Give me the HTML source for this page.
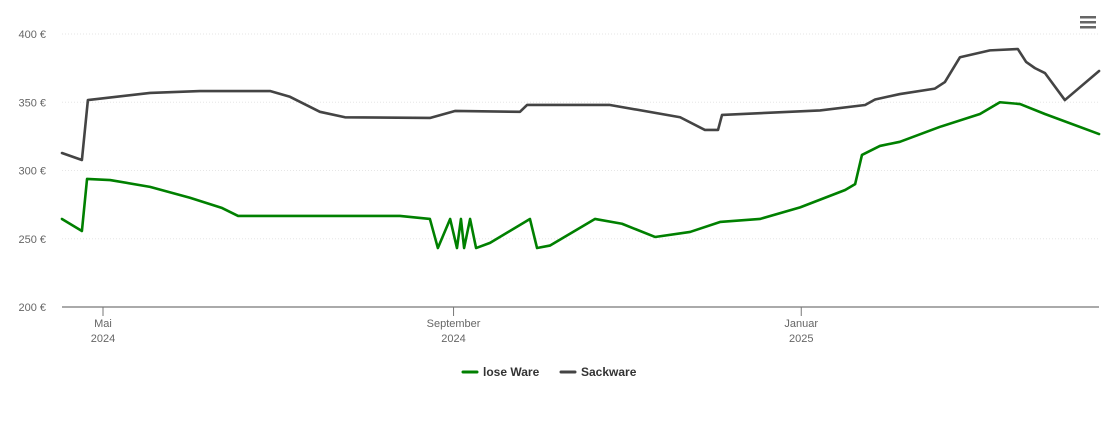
<!DOCTYPE html>
<html><head><meta charset="utf-8"><style>
body{margin:0;background:#fff;font-family:"Liberation Sans",sans-serif}
svg text{font-family:"Liberation Sans",sans-serif}
</style></head><body>
<svg id="chart" width="1110" height="422" xmlns="http://www.w3.org/2000/svg">
<g id="grid"></g><g id="axes"></g><g id="series"></g>
<g fill="#666">
<rect x="1080" y="16" width="16" height="2.5"/><rect x="1080" y="21" width="16" height="2.5"/><rect x="1080" y="26" width="16" height="2.5"/>
</g>
<g>
<g><line x1="463" y1="372" x2="477" y2="372" stroke="#008000" stroke-width="3" stroke-linecap="round"/><text x="483" y="376" font-size="12" font-weight="bold" fill="#333">lose Ware</text></g>
<g><line x1="561" y1="372" x2="575" y2="372" stroke="#444" stroke-width="3" stroke-linecap="round"/><text x="581" y="376" font-size="12" font-weight="bold" fill="#333">Sackware</text></g>
</g>
</svg>
<script>
const yTicks=[200,250,300,350,400];
const xTickDays=[0,123,245];
const xTickLabels=[["Mai","2024"],["September","2024"],["Januar","2025"]];
const sackDays=[-14.4,-7.4,-5.3,16.5,34,58.6,65.6,76.1,84.9,114.7,123.5,146.3,148.8,177.9,202.5,211.2,215.8,217.2,230.5,251.6,267.4,270.9,279.6,291.9,295.4,300.7,311.2,321,323.9,327,330.5,337.5,349.5];
const sackVals=[312.8,307.7,351.6,356.8,358.2,358.2,354,343,339,338.5,343.6,343,348,348,339,329.7,329.7,340.7,342,344,348,352,356,360,364.8,383,388,389,379.5,375,371.4,351.6,372.9];
const loseDays=[-14.4,-7.4,-5.6,2.5,16.5,30.5,41.8,47.4,104.2,114.7,117.5,121.8,124.2,125.6,126.7,128.8,130.9,135.8,149.8,152.3,156.8,172.6,182.1,193.7,206,216.5,230.5,244.6,260.4,263.9,266.3,272.6,279.6,293.7,307.7,314.7,321.8,330.5,349.5];
const loseVals=[264.5,255.7,293.8,293,288,280,272.5,266.7,266.7,264.5,243.2,264.5,243.2,264.5,243.2,264.5,243.2,247,264.5,243.2,245,264.5,261,251.3,255,262.3,264.5,273,285.7,290,311.4,318,321,332,341.4,350,348.7,341.4,326.7];
const X=d=>103+d*2.85, Y=v=>307-(v-200)*1.365;
const NS="http://www.w3.org/2000/svg";
function mk(t,a,p){const e=document.createElementNS(NS,t);for(const k in a)e.setAttribute(k,a[k]);p.appendChild(e);return e;}
const grid=document.getElementById('grid'),axes=document.getElementById('axes'),ser=document.getElementById('series');
yTicks.forEach(v=>{
 if(v>200){const l=mk('line',{x1:62,x2:1099,y1:Y(v),y2:Y(v),stroke:'#e6e6e6','stroke-dasharray':'1,2'},grid);
 
 }
 const t=mk('text',{x:46,y:Y(v)+4,'text-anchor':'end','font-size':11,fill:'#666'},axes);t.textContent=v+' €';
 
 
});
const ax=mk('line',{x1:62,x2:1099,y1:307,y2:307,stroke:'#777','stroke-width':1.2},axes);


xTickDays.forEach((d,i)=>{
 mk('line',{x1:X(d),x2:X(d),y1:307,y2:316,stroke:'#777'},axes);
 const t=mk('text',{x:X(d),y:327,'text-anchor':'middle','font-size':11,fill:'#666'},axes);
 
 
 const a=mk('tspan',{x:X(d),dy:0},t);a.textContent=xTickLabels[i][0];
 const b=mk('tspan',{x:X(d),dy:15},t);b.textContent=xTickLabels[i][1];
});
function line(ds,vs,c,n){
 const p=mk('polyline',{points:ds.map((d,i)=>X(d)+','+Y(vs[i])).join(' '),fill:'none',stroke:c,'stroke-width':2.6,'stroke-linejoin':'round','stroke-linecap':'round'},ser);
 
 
}
line(sackDays,sackVals,'#444','sackware-line');
line(loseDays,loseVals,'#008000','lose-ware-line');
</script>
</body></html>
